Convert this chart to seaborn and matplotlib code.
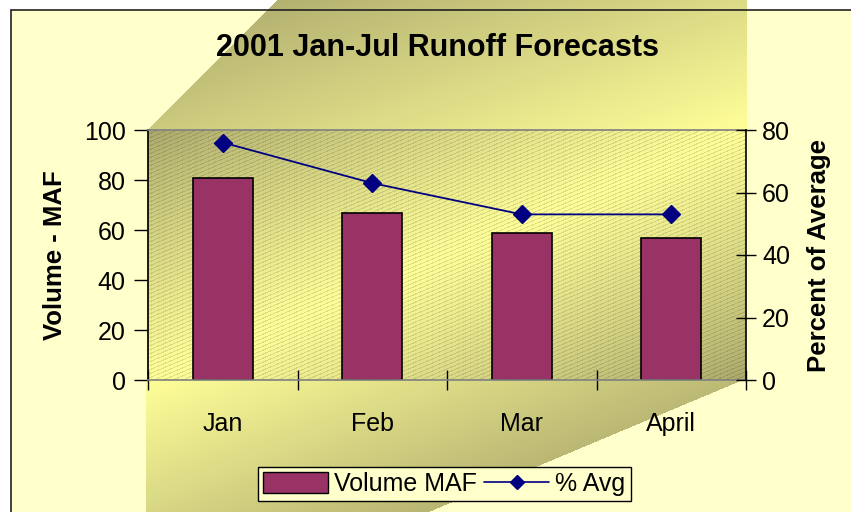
#! /usr/bin/env python3
import numpy as np
import matplotlib
matplotlib.use("Agg")
import matplotlib.pyplot as plt
from matplotlib.patches import Patch
from matplotlib.lines import Line2D
import seaborn as sns

# data
months = ["Jan", "Feb", "Mar", "April"]
volume_maf = [80.7, 66.7, 58.8, 56.7]
pct_avg = [76, 63, 53, 53]

BAR_COLOR = "#993366"
LINE_COLOR = "#000080"
W, H = 851, 512

sns.set_theme(style="white")
plt.rcParams["font.family"] = ["Liberation Sans", "DejaVu Sans"]
plt.rcParams["text.color"] = "black"
plt.rcParams["axes.labelcolor"] = "black"
plt.rcParams["xtick.color"] = "black"
plt.rcParams["ytick.color"] = "black"

# background picture (excel style gradient fills)
dark = np.array([0xA9, 0xA6, 0x6B]) / 255
light = np.array([0xFF, 0xFF, 0x99]) / 255
chart_bg = np.array([0xFF, 0xFF, 0xCC]) / 255

yy, xx = np.mgrid[0:H, 0:W] + 0.5
img = np.ones((H, W, 3))
img[(xx >= 11) & (yy >= 10)] = chart_bg

# top band
m = (yy < 130) & (xx <= 747) & (xx >= 148 + (130 - yy) * (129 / 130))
t = np.clip((xx - 148) / 599 * 0.6 + yy / 130 * 0.4, 0, 1)
img[m] = (dark * (1 - t[..., None]) + light * t[..., None])[m]

# bottom band
m = (yy > 380) & (xx >= 146) & (xx <= 743 - (yy - 380) * (314 / 132))
t = np.clip((xx - 146) / 420 * 0.55 + (yy - 380) / 132 * 0.45, 0, 1)
img[m] = (light * (1 - t[..., None]) + dark * t[..., None])[m]

# plot area
m = (xx >= 148) & (xx <= 746) & (yy >= 130) & (yy <= 380)
u = (xx - 148) / 598 + (yy - 130) / 250
b = np.clip(1 - np.abs(u - 1), 0, 1) ** 0.8
pa = dark * (1 - b[..., None]) + light * b[..., None]
stripes = ((yy + 0.42 * xx) % 4) < 1.2
pa[stripes] *= 0.88
img[m] = pa[m]

fig = plt.figure(figsize=(W / 100, H / 100), dpi=100)
fig.patch.set_facecolor("white")
bg = fig.add_axes([0, 0, 1, 1])
bg.imshow(img, extent=(0, W, H, 0), aspect="auto", interpolation="nearest")
bg.plot([11, W], [10, 10], color="#222222", lw=1.2)
bg.plot([11, 11], [10, H], color="#222222", lw=1.2)
bg.set_xlim(0, W)
bg.set_ylim(H, 0)
bg.axis("off")

ax = fig.add_axes([148 / W, (H - 380) / H, 598 / W, 250 / H])
ax.set_facecolor("none")

sns.barplot(x=months, y=volume_maf, color=BAR_COLOR, edgecolor="black",
            linewidth=1.2, width=0.4, saturation=1, ax=ax)

ax2 = ax.twinx()
sns.pointplot(x=months, y=pct_avg, color=LINE_COLOR, markers="D",
              markersize=9, linewidth=1.3, errorbar=None, ax=ax2)

ax.set_xlim(-0.5, 3.5)
ax.set_ylim(0, 100)
ax2.set_ylim(0, 80)
ax.set_yticks(range(0, 101, 20))
ax2.set_yticks(range(0, 81, 20))
ax.set_xticks(range(len(months)))
ax.set_xticklabels(months)
ax.set_xticks(np.arange(-0.5, 4, 1), minor=True)

ax.tick_params(axis="y", direction="out", length=10, width=1, color="black",
               labelsize=18, pad=6, left=True)
ax.tick_params(axis="x", which="major", length=0, labelsize=18, pad=23)
ax.tick_params(axis="x", which="minor", direction="inout", length=15,
               width=1, color="black", bottom=True)
ax2.tick_params(axis="y", direction="inout", length=15, width=1,
                color="black", labelsize=18, pad=4, right=True)

for s in ["top", "bottom"]:
    ax.spines[s].set_color("#808080")
    ax.spines[s].set_linewidth(1.2)
ax.spines["left"].set_color("black")
ax.spines["right"].set_visible(False)
for s in ["top", "bottom", "left"]:
    ax2.spines[s].set_visible(False)
ax2.spines["right"].set_color("black")
ax2.spines["right"].set_linewidth(1.2)
ax.set_xlabel("")
ax2.set_xlabel("")

ax.set_ylabel("Volume - MAF", fontsize=18.5, fontweight="bold", labelpad=12)
ax2.set_ylabel("Percent of Average", fontsize=18.5, fontweight="bold", labelpad=12)

fig.text(437 / W, 1 - 48 / H, "2001 Jan-Jul Runoff Forecasts", ha="center",
         va="center", fontsize=22, fontweight="bold")

handles = [Patch(facecolor=BAR_COLOR, edgecolor="black", linewidth=1),
           Line2D([], [], color=LINE_COLOR, marker="D", markersize=7, lw=1.2)]
leg = fig.legend(handles, ["Volume MAF", "% Avg"], loc="center",
                 bbox_to_anchor=(444 / W, 1 - 484 / H), ncol=2, fontsize=18,
                 frameon=True, fancybox=False, edgecolor="black",
                 facecolor="#FFFFCC", framealpha=1, handlelength=2.6,
                 handleheight=0.9, handletextpad=0.25, columnspacing=0.3,
                 borderpad=0.2, borderaxespad=0.2)
leg.get_frame().set_linewidth(1)

fig.savefig("out.png", dpi=100)
